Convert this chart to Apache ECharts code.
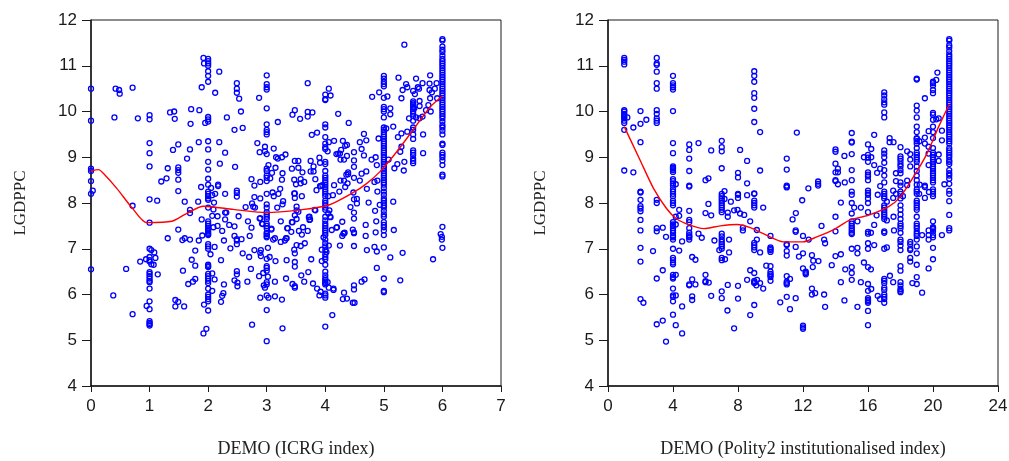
<!DOCTYPE html>
<html><head><meta charset="utf-8">
<script src="https://cdn.jsdelivr.net/npm/echarts@6/dist/echarts.min.js"></script>
<style>html,body{margin:0;padding:0;background:#fff}#c{width:1009px;height:461px}</style>
</head><body><div id="c"></div>
<script>
// Left panel: columns at whole/half index values
const icrg0=[10.5,9.8,8.75,8.7,8.48,8.2,6.55];
const icrg1=[9.92,9.83,9.31,9.09,8.8,8.08,7.57,7.0,6.82,6.75,6.72,6.49,6.45,6.4,6.35,6.3,6.27,6.13,5.85,5.68,5.42,5.38,5.35,5.32];
const icrg2=[11.15,11.1,11.05,11.0,10.88,10.78,10.65,9.88,9.83,9.78,9.35,9.17,8.9,8.73,8.53,8.4,8.25,8.2,8.15,8.1,8.07,7.9,7.6,7.55,7.5,7.45,7.42,7.38,7.35,7.32,7.3,7.1,7.05,7.0,6.65,6.62,6.6,6.45,6.4,6.35,6.3,6.25,6.13,6.0,5.95,5.9,5.85,5.65];
const icrg3=[10.79,10.6,10.53,10.48,10.07,9.72,9.6,9.55,9.5,9.07,8.75,8.7,8.6,8.55,8.48,8.2,7.97,7.9,7.8,7.75,7.7,7.65,7.55,7.5,7.45,7.35,7.32,7.28,7.25];
const icrg4=[10.37,10.27,10.25,9.72,9.65,9.44,9.3,9.22,9.18,8.9,8.85,8.7,8.6,8.55,8.5,8.45,8.4,8.35,8.3,8.25,8.2,8.15,8.05,8.0,7.95,7.9,7.85,7.7,7.62,7.55,7.5,7.45,7.4,7.35,7.3,7.2,7.12,7.05,6.97,6.88,6.82,6.77,6.65,6.5,6.42,6.36,6.32,6.28,6.25,6.22,6.02,5.98,5.93,5.3];
const icrg5=[10.78,10.72,10.65,10.6,10.55,10.3,10.1,10.05,10.0,9.87,9.65,9.6,9.55,9.5,9.45,9.4,9.35,9.3,9.25,9.2,9.15,9.1,9.05,9.0,8.95,8.9,8.85,8.8,8.75,8.7,8.65,8.6,8.55,8.5,8.45,8.4,8.33,8.25,8.18,8.1,8.05,8.0,7.95,7.9,7.83,7.75,7.7,7.58,7.52,7.47,7.4,7.3,7.03,6.35,6.08,6.05];
const icrg55=[10.45,10.22,10.18,10.15,10.1,10.05,10.0,9.95,9.9,9.8,9.65,9.6,9.5,9.4,9.15,9.1,9.05,8.97,8.92,8.87];
const icrg6=[11.58,11.55,11.42,11.35,11.3,11.22,11.15,11.1,11.05,11.0,10.95,10.9,10.85,10.8,10.75,10.7,10.65,10.6,10.55,10.5,10.45,10.4,10.35,10.3,10.25,10.2,10.15,10.1,10.05,10.0,9.95,9.9,9.85,9.78,9.7,9.65,9.58,9.5,9.3,9.27,9.1,9.05,9.0,8.93,8.83,8.62,8.58,7.48,7.02];
// Left panel: points off the columns, as [x, y]
const icrgLoose=[[.03,8.27],[.4,9.87],[.42,10.5],[.48,10.47],[.49,10.39],[.71,10.52],[.8,9.85],[.71,7.94],[.6,6.56],[.38,5.98],[.71,5.57],[.84,6.72],[.94,6.77],[.95,5.75],[1.03,6.97],[1.08,6.92],[1.1,6.8],[1.03,6.66],[1.07,6.65],[1.14,6.44],
[1.13,8.05],[1.2,8.47],[1.29,8.54],[1.31,8.76],[1.35,9.98],[1.42,10.0],[1.43,9.84],[1.4,9.16],[1.49,9.28],[1.49,8.78],[1.49,8.72],[1.49,8.66],[1.49,8.51],[1.49,8.26],[1.6,8.03],[1.64,8.97],[1.69,9.17],[1.7,9.73],[1.71,10.05],[1.85,10.03],[1.84,9.33],[1.83,8.03],[1.69,7.85],[1.69,7.78],[1.89,10.53],[1.88,8.35],[1.89,7.64],[1.49,7.42],[1.31,7.23],[1.56,7.19],[1.6,7.23],[1.69,7.2],[1.84,7.18],[1.9,7.29],
[1.92,11.17],[1.93,11.05],[1.95,9.75],[1.78,6.96],[1.72,6.76],[1.78,6.63],[1.57,6.52],[1.78,6.34],[1.74,6.28],[1.66,6.23],[1.44,5.88],[1.49,5.84],[1.44,5.74],[1.59,5.74],[1.93,5.78],[1.97,5.25],[1.92,5.15],
[2.05,8.33],[2.12,10.41],[2.19,10.87],[2.19,9.33],[2.2,8.86],[2.29,9.1],[2.32,9.87],[2.17,8.4],[2.17,8.37],[2.29,8.2],[2.1,8.01],[2.07,8.17],[2.12,8.2],[2.31,7.79],[2.07,7.72],[2.16,7.71],[2.29,7.64],[2.36,7.52],[2.45,7.49],[2.52,7.71],[2.45,9.6],[2.59,9.64],[2.56,10.0],[2.53,10.28],[2.49,10.62],[2.49,10.5],[2.49,10.41],[2.46,8.79],[2.49,8.27],[2.49,8.22],[2.49,8.14],[2.64,7.91],[2.68,7.6],[2.74,7.46],[2.09,7.86],[2.29,7.79],[2.16,7.5],[2.09,7.47],[2.24,7.39],[2.27,7.18],[2.45,7.28],[2.49,7.21],[2.49,7.18],[2.49,7.1],[2.57,7.21],[2.71,7.28],
[2.11,7.04],[2.04,6.88],[2.22,6.75],[2.07,6.46],[2.11,6.33],[2.27,6.22],[2.07,6.08],[2.26,6.03],[2.24,5.97],[2.22,5.84],[2.38,7.01],[2.59,6.9],[2.7,6.82],[2.79,6.97],[2.9,6.97],[2.89,6.91],[2.9,6.84],[2.73,6.56],[2.49,6.51],[2.49,6.44],[2.45,6.31],[2.5,6.26],[2.5,6.18],[2.67,6.28],[2.87,6.4],[2.94,6.47],[2.89,5.93],[2.75,5.34],
[2.74,8.52],[2.79,8.38],[2.84,9.31],[2.88,9.11],[2.87,10.3],[2.89,8.46],[2.79,8.13],[2.89,8.1],[2.75,7.99],[2.77,7.92],[2.8,7.9],[2.89,7.67],[2.93,7.54],[2.97,9.23],[2.97,9.13],[3.03,8.83],[2.92,7.55],[2.88,7.66],
[3.12,9.19],[3.09,8.66],[3.06,8.54],[3.15,8.77],[3.16,9.0],[3.19,8.97],[3.26,9.0],[3.32,9.06],[3.19,9.77],[3.27,8.65],[3.26,8.51],[3.23,8.31],[3.1,8.23],[3.12,8.15],[3.2,8.2],[3.28,8.04],[3.27,7.97],[3.18,7.9],[3.24,7.6],[3.08,7.44],[3.35,7.45],[3.02,7.02],[3.05,6.82],[3,6.78],[3,6.62],[3,6.58],[3,6.52],[3.02,6.39],[3,6.27],[3,6.22],[2.95,6.2],[2.97,6.15],[3,5.98],[3.03,5.93],[3.14,5.96],[3.26,5.89],[3,5.66],[3.27,5.26],[3,4.98],[3.14,6.28],[3.15,6.73],[3.34,6.75],[3.33,6.35],[3.08,7.42],[3.14,7.23],[3.11,7.2],[3.31,7.18],[3.24,7.15],[3.34,7.23],[3.36,7.45],
[3.44,9.93],[3.48,10.03],[3.57,9.84],[3.7,10.62],[3.7,9.89],[3.7,9.99],[3.78,9.98],[3.77,9.49],[3.86,9.54],[3.43,8.75],[3.48,8.92],[3.54,8.92],[3.54,8.77],[3.61,8.67],[3.47,8.51],[3.5,8.41],[3.58,8.52],[3.58,8.43],[3.64,8.46],[3.47,8.21],[3.48,8.21],[3.48,8.11],[3.6,8.15],[3.51,7.92],[3.51,7.84],[3.54,7.81],[3.48,7.73],[3.51,7.65],[3.43,7.58],[3.73,7.7],[3.74,7.64],[3.83,7.84],[3.75,8.92],[3.75,8.69],[3.8,8.69],[3.8,8.8],[3.83,8.52],[3.85,8.28],[3.9,8.99],[3.91,8.88],[3.91,8.37],[3.95,8.39],[3.92,8.37],
[3.44,7.58],[3.42,7.37],[3.55,7.39],[3.62,7.47],[3.7,7.39],[3.6,7.31],[3.33,7.23],[3.51,7.08],[3.58,7.06],[3.65,7.12],[3.47,6.98],[3.48,6.9],[3.48,6.71],[3.48,6.61],[3.76,6.77],[3.71,6.49],[3.59,6.42],[3.64,6.28],[3.79,6.24],[3.86,6.13],[3.92,6.06],[3.9,5.98],[3.94,6.98],[3.94,6.73],[3.97,7.25],[3.72,7.69],[3.73,7.63],[3.82,7.85],[3.44,6.23],[3.48,6.18],[3.48,6.15],
[4.06,10.5],[4.09,10.35],[4.04,9.13],[4.06,9.33],[4.15,9.36],[4.22,9.95],[4.4,9.75],[4.3,9.36],[4.37,9.27],[4.34,9.25],[4.19,9.07],[4.22,9.08],[4.25,9.08],[4.27,9.16],[4.37,9.03],[4.26,8.95],[4.32,8.95],[4.49,9.11],[4.49,8.93],[4.49,8.79],[4.39,8.67],[4.39,8.63],[4.36,8.62],[4.49,8.55],[4.26,8.49],[4.32,8.49],[4.38,8.43],[4.34,8.35],[4.15,8.39],[4.24,8.25],[4.13,8.17],[4.05,8.15],[4.48,8.23],[4.49,8.08],[4.54,8.09],[4.54,7.99],[4.43,7.91],[4.49,7.79],[4.49,7.66],[4.29,7.59],[4.08,7.7],[4.07,7.84],[4.2,7.47],[4.05,7.77],[4.09,7.69],[4.11,7.41],[4.19,7.46],[4.32,7.34],[4.29,7.28],[4.47,7.42],[4.49,7.34],[4.25,7.07],[4.06,7.07],[4.02,6.93],[4.04,6.27],[4.06,6.15],[4.14,6.13],[4.14,6.1],[4.12,5.55],[4.31,7.33],[4.33,7.35],[4.49,7.36],[4.49,7.06],[4.49,6.2],[4.49,6.11],[4.32,6.04],[4.3,5.9],[4.37,5.91],[4.47,5.82],[4.5,5.82],
[4.62,9.18],[4.59,9.33],[4.66,9.51],[4.7,9.37],[4.66,9.04],[4.79,8.95],[4.86,9.0],[4.88,8.83],[4.91,9.41],[4.8,10.32],[4.92,10.42],[4.62,8.64],[4.7,8.69],[4.59,8.49],[4.84,8.46],[4.89,8.49],[4.71,8.31],[4.89,8.25],[4.74,8.01],[4.93,7.96],[4.85,7.83],[4.87,7.6],[4.69,7.52],[4.69,7.28],[4.86,7.36],[4.84,7.04],[4.71,6.97],[4.88,6.94],[4.88,6.58],[4.62,6.28],[4.67,6.33],
[5.06,10.33],[5.11,10.07],[5.11,9.94],[5.16,9.67],[5.04,9.63],[5.08,8.95],[5.16,8.03],[5.18,8.76],[5.23,8.85],[5.28,9.12],[5.3,9.23],[5.24,9.44],[5.3,9.52],[5.3,10.29],[5.25,10.74],[5.35,11.46],[5.32,10.47],[5.38,10.6],[5.4,10.53],[5.35,8.9],[5.34,8.71],[5.4,9.56],[5.43,9.85],[5.17,7.41],[5.11,6.81],[5.32,6.91],[5.28,6.31],
[5.53,10.38],[5.55,10.72],[5.58,10.53],[5.52,10.07],[5.55,9.87],[5.61,10.23],[5.61,10.12],[5.6,10.5],[5.66,9.89],[5.61,9.85],[5.67,9.5],[5.67,9.09],[5.66,10.62],[5.72,10.03],[5.79,10.79],[5.78,10.61],[5.78,10.47],[5.76,10.14],[5.8,10.0],[5.79,10.29],[5.82,10.42],[5.87,10.5],[5.9,10.62],[5.91,10.29],[5.84,6.77],[5.97,7.32],[5.99,7.26],[5.99,7.2]];
const icrgFitX=[0,.13,.21,.44,.71,.95,1.38,1.63,1.92,2.43,3,3.57,4.05,4.48,4.71,4.93,5.22,5.5,5.79,6];
const icrgFitY=[8.7,8.73,8.65,8.32,7.88,7.57,7.6,7.77,7.93,7.86,7.79,7.85,7.95,8.23,8.43,8.68,9.12,9.6,10.1,10.34];

// Right panel: columns at whole index values
const pol1=[11.17,11.13,11.09,11.03,10.03,10.0,9.95,9.92,9.88,9.85,9.8,9.75,9.6,8.71];
const pol2=[10.01,9.73,9.33,8.25,8.23,8.07,7.93,7.88,7.82,7.63,7.4,7.02,6.72,5.9];
const pol3=[11.17,11.05,11.02,10.87,10.62,10.5,10.03,9.95,9.85,9.8,9.75,8.07,8.0,7.45,7.38,6.35,5.35];
const pol4=[10.78,10.62,10.57,10.53,10.48,10.01,9.31,9.09,8.8,8.77,8.75,8.72,8.68,8.52,8.48,8.43,8.38,8.3,8.25,8.2,8.15,8.05,8.0,7.95,7.58,7.53,7.5,7.45,7.4,7.35,7.28,7.25,7.2,7.0,6.8,6.75,6.7,6.66,6.43,6.38,6.35,6.13,5.98,5.95,5.85,5.56];
const pol5=[9.28,9.16,8.97,8.7,8.38,8.36,7.83,7.63,7.58,7.45,7.35,7.3,7.27,7.25,7.2,6.22,6.2];
const pol6=[8.5,7.78,6.43,6.29,6.27];
const pol7=[9.36,9.22,9.13,8.76,8.2,8.15,8.1,8.05,8.0,7.95,7.9,7.85,7.8,7.33,7.27,7.2,7.15,7.1,7.05,7.0,6.8,6.75,6.07,5.92];
const pol8=[8.66,8.56,8.2,8.18,8.11,6.19,5.91];
const pol9=[10.88,10.78,10.65,10.4,10.3,10.06,9.77,8.21,8.2,8.05,8.0,7.95,7.9,7.13,7.08,7.03,6.97,6.47,6.3,6.27,6.25,5.77];
const pol10=[7.28,7.03,7.0,6.97,6.93,6.62,6.5,6.45,6.42,6.38,6.3];
const pol11=[8.97,8.73,8.38,8.36,8.34,7.1,7.08,6.95,6.85,6.4,6.28,6.25,6.22,5.95];
const pol12=[7.28,6.9,6.57,5.32,5.28,5.25];
const pol14=[9.17,9.12,8.86,8.67,8.5,8.48,7.7,7.38,6.84];
const pol15=[9.53,9.34,9.32,9.07,8.72,8.5,8.25,8.18,8.0,7.77,7.6,7.55,7.5,7.45,7.4,7.35,7.32,7.0,6.6,6.47,6.32];
const pol16=[9.28,9.05,8.99,8.9,8.67,8.62,8.58,8.5,8.27,8.22,8.18,8.1,8.0,7.8,7.37,7.33,7.12,7.0,6.6,6.23,6.08,5.92,5.88,5.85,5.82,5.64,5.33];
const pol17=[10.42,10.35,10.27,10.2,10.15,9.98,9.87,9.15,9.08,9.0,8.88,8.72,8.6,8.45,8.25,8.2,8.15,8.1,7.95,7.9,7.85,7.8,7.75,7.7,7.65,7.38,7.35,7.0,6.34,6.3,6.25,6.15,6.1,6.0,5.95,5.9,5.82];
const pol18=[9.22,9.02,8.97,8.92,8.85,8.8,8.72,8.65,8.45,8.38,8.25,8.2,8.1,7.95,7.85,7.75,7.65,7.55,7.5,7.45,7.35,7.2,7.15,7.07,6.97,6.62,6.52,6.27,6.2,6.12,6.08,6.05];
const pol19=[10.72,10.7,10.13,10.02,9.87,9.67,9.55,9.42,9.4,9.35,9.3,9.2,9.1,9.05,9.0,8.95,8.9,8.8,8.7,8.6,8.5,8.4,8.3,8.25,8.2,8.05,8.0,7.95,7.9,7.85,7.7,7.55,7.5,7.45,7.38,7.33,7.28,7.2,7.05,6.9,6.65,6.38,6.23];
const pol20=[10.65,10.62,10.57,10.47,10.4,9.97,9.93,9.82,9.67,9.55,9.42,9.2,9.1,9.05,9.0,8.95,8.9,8.85,8.8,8.75,8.7,8.65,8.6,8.55,8.5,8.45,8.3,8.25,8.2,8.15,7.6,7.47,7.45,7.43,7.38,7.3,7.25,7.02,6.77];
const pol21=[11.58,11.55,11.45,11.4,11.32,11.25,11.2,11.15,11.1,11.05,11.0,10.95,10.9,10.85,10.8,10.75,10.7,10.65,10.6,10.55,10.5,10.45,10.4,10.35,10.3,10.25,10.2,10.15,10.1,10.05,10.0,9.95,9.9,9.85,9.8,9.75,9.7,9.65,9.6,9.55,9.5,9.45,9.4,9.35,9.3,9.2,9.15,9.1,9.05,9.0,8.93,8.9,8.85,8.72,8.65,8.6,8.53,8.42,8.27,8.2,8.04,7.74,7.45,7.4];
const polLoose=[[1.19,9.87],[1.56,9.65],[1.56,8.67],[2.18,5.82],[2.36,9.82],[3.37,7.46],[2.77,6.95],[3.37,6.53],[3.37,5.43],[3.57,4.97],[3.57,7.26],
[4.17,8.41],[4.38,7.85],[4.17,7.7],[4.38,7.72],[4.17,7.53],[4.17,6.43],[4.17,5.98],[4.17,5.33],[4.56,5.15],[4.56,5.74],[4.38,6.96],[4.56,7.16],
[5.18,6.33],[5.18,5.96],[5.18,5.88],[5.18,6.82],[5.38,6.76],[5.38,6.22],[5.57,7.33],[5.77,7.24],[5.57,9.31],[6.18,8.54],[6.35,9.15],[6.18,7.98],[6.35,7.73],[6.2,6.26],[6.35,5.97],[6.55,7.18],
[7.17,8.26],[7.17,8.09],[6.85,6.97],[7.2,6.77],[7.45,7.2],[7.45,6.92],[7.37,6.21],[7.35,5.65],[7.76,5.26],[7.37,7.79],[7.37,7.7],[7.56,8.03],[7.76,7.84],[7.97,7.85],
[8.13,9.16],[8.13,7.77],[8.38,7.74],[8.56,8.92],[8.56,8.43],[8.56,8.17],[8.75,7.6],[8.3,7.46],[8.3,7.4],[9.36,9.55],[9.36,8.71],[9.55,7.9],[9.16,7.41],[9.16,7.2],[9.36,6.92],[8.75,6.53],[9.17,6.32],[9.36,6.25],[9.13,6.2],[8.56,6.32],[9.55,6.13],[8.75,5.55],[9.74,6.63],
[11.2,6.34],[11.2,5.68],[11.36,7.64],[11.56,7.78],[11.62,9.54],[11.55,7.4],[11.55,7.04],[11.55,5.92],[11.55,7.37],[11.75,6.83],[12.17,6.5],[12.17,6.47],[12.17,6.44],[12.33,8.32],[11.95,8.06],[10.6,5.83],
[12.35,7.2],[12.55,6.86],[12.63,6.74],[12.95,6.73],[12.6,6.6],[12.55,6.13],[12.55,6.0],[12.75,6.03],[13.3,6.0],[13.36,5.73],[13.14,7.5],[13.3,7.2],[13.36,7.12],[12.93,8.47],[12.93,8.42],[12.93,8.38],
[13.77,6.64],[14.15,8.67],[14.15,8.75],[14.15,8.41],[14.57,8.45],[14.55,9.03],[14.6,6.55],[14.33,6.88],[14.33,6.27],[14.55,5.87],[14.33,8.01],
[15.15,7.9],[15.35,7.6],[15.56,7.9],[15.35,7.02],[15.35,6.9],[15.35,5.73],[15.56,6.27],[15.75,9.0],
[16.2,9.18],[16.2,9.0],[16.38,9.49],[16.38,8.83],[16.56,8.66],[16.75,8.75],[16.75,8.37],[16.6,8.18],[16.53,7.73],[16.38,7.52],[16.18,6.55],[15.75,6.7],[16.2,6.12],[16.38,7.08],[16.18,7.35],
[17.16,7.03],[17.35,6.41],[17.33,9.42],[17.33,9.33],[17.57,9.33],[17.16,8.03],[17.16,7.62],[17.57,7.7],[17.55,6.27],[16.6,5.97],[16.74,5.9],[17.6,7.4],
[17.72,8.48],[17.72,8.65],[17.55,8.27],[17.55,8.11],[17.72,8.2],[18.41,9.13],[18.6,9.07],[18.6,8.95],[18.6,8.8],[18.41,8.49],[18.41,8.39],[18.15,8.15],[18.6,7.15],[18.6,7.1],[18.6,7.0],[18.6,6.97],[18.6,6.8],[18.6,6.72],[18.73,6.25],
[19.16,9.35],[19.5,9.43],[19.5,9.3],[19.18,8.4],[19.15,8.2],[19.5,8.38],[19.5,8.35],[19.5,8.11],[19.5,10.29],[19.33,6.04],[19.33,7.3],[19.73,9.23],[19.73,9.57],[19.73,9.08],[19.73,8.83],[19.75,8.24],[19.73,6.57],[19.73,7.2],[19.73,7.3],[19.73,7.4],
[20.2,10.69],[20.27,10.85],[20.2,9.83],[20.35,9.85],[20.55,9.58],[20.55,9.37],[20.35,9.06],[20.35,8.92],[20.7,8.41],[20.55,7.3]];
const polFitX=[1,1.97,2.8,3.6,4.2,5,5.9,6.9,7.95,8.75,9.56,10.8,12,12.85,13.9,14.9,16,17.27,18,18.8,19.63,20.35,21];
const polFitY=[9.67,8.94,8.32,7.88,7.66,7.52,7.44,7.5,7.53,7.46,7.33,7.15,7.15,7.26,7.42,7.63,7.73,7.92,8.14,8.57,9.08,9.67,10.16];

const yLabelName='LGDPPC';
const xNameLeft='DEMO (ICRG index)';
const xNameRight='DEMO (Polity2 institutionalised index)';

const col=(x,ys)=>ys.map(y=>[x,y]);
const leftPts=[].concat(col(0,icrg0),col(1,icrg1),col(2,icrg2),col(3,icrg3),col(4,icrg4),col(5,icrg5),col(5.5,icrg55),col(6,icrg6),icrgLoose);
const polCols={1:pol1,2:pol2,3:pol3,4:pol4,5:pol5,6:pol6,7:pol7,8:pol8,9:pol9,10:pol10,11:pol11,12:pol12,14:pol14,15:pol15,16:pol16,17:pol17,18:pol18,19:pol19,20:pol20,21:pol21};
let rightPts=polLoose.slice();
Object.keys(polCols).forEach(k=>{rightPts=rightPts.concat(col(+k,polCols[k]));});

const ink='#1a1a1a';
function xAxis(i,max,interval,name){return {gridIndex:i,type:'value',min:0,max,interval,name,nameLocation:'middle',nameGap:54,
  nameTextStyle:{fontFamily:'Liberation Serif',fontSize:18,color:'#222'},
  axisLine:{show:true,lineStyle:{color:ink,width:1.5}},axisTick:{show:true,length:6,lineStyle:{color:ink,width:1}},
  axisLabel:{fontFamily:'Liberation Sans',fontSize:17,color:ink,margin:12,hideOverlap:false,showMinLabel:true,showMaxLabel:true},splitLine:{show:false}};}
function yAxis(i,gap){return {gridIndex:i,type:'value',min:4,max:12,interval:1,name:yLabelName,nameLocation:'middle',nameGap:gap,nameRotate:90,
  nameTextStyle:{fontFamily:'Liberation Serif',fontSize:17,color:'#222'},
  axisLine:{show:true,lineStyle:{color:ink,width:1.5}},axisTick:{show:true,length:9,lineStyle:{color:ink,width:1}},
  axisLabel:{fontFamily:'Liberation Sans',fontSize:17,color:ink,margin:14,showMinLabel:true,showMaxLabel:true},splitLine:{show:false}};}
function pts(i,data){return {type:'scatter',xAxisIndex:i,yAxisIndex:i,data,symbol:'circle',symbolSize:5,z:2,clip:false,
  itemStyle:{color:'rgba(0,0,0,0)',borderColor:'#0000ff',borderWidth:1.3,opacity:1},emphasis:{disabled:true}};}
function fit(i,xs,ys){return {type:'line',xAxisIndex:i,yAxisIndex:i,data:xs.map((x,k)=>[x,ys[k]]),showSymbol:false,smooth:0.25,z:5,
  lineStyle:{color:'#ff0000',width:1.4}};}

const chart=echarts.init(document.getElementById('c'),null,{renderer:'canvas'});
chart.setOption({animation:false,backgroundColor:'#fff',
  grid:[{left:91,top:20,width:410,height:366,show:true,borderColor:ink,borderWidth:1,backgroundColor:'#fff',outerBoundsMode:'none'},
        {left:608,top:20,width:390,height:366,show:true,borderColor:ink,borderWidth:1,backgroundColor:'#fff',outerBoundsMode:'none'}],
  xAxis:[xAxis(0,7,1,xNameLeft),xAxis(1,24,4,xNameRight)],
  yAxis:[yAxis(0,62),yAxis(1,59)],
  series:[pts(0,leftPts),fit(0,icrgFitX,icrgFitY),pts(1,rightPts),fit(1,polFitX,polFitY)]});
</script></body></html>
